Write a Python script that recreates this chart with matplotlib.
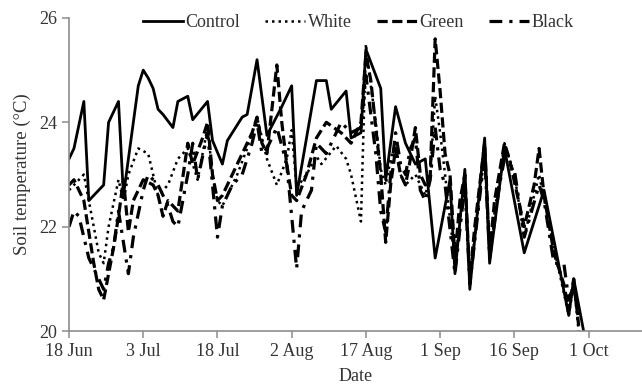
#!/usr/bin/env python3
import pandas as pd
import matplotlib
matplotlib.use('Agg')
import matplotlib.pyplot as plt
import matplotlib.dates as mdates

START = pd.Timestamp('2013-06-18')

# days after 18 Jun, soil temperature (°C)
control_days = [0, 1, 3, 4, 7, 8, 10, 11, 14, 15, 16, 17, 18, 19, 21, 22, 24, 25, 28, 29,
                31, 32, 35, 36, 38, 40, 43, 45, 46, 50, 52, 53, 56, 57, 59, 60, 63, 64, 66, 68,
                70, 72, 74, 77, 78, 80, 81, 84, 85, 88, 92, 96, 101, 102, 104]
control = [23.3, 23.5, 24.4, 22.5, 22.8, 24.0, 24.4, 22.6, 24.7, 25.0, 24.85, 24.65, 24.25, 24.15, 23.9, 24.4, 24.5, 24.05, 24.4, 23.65,
           23.2, 23.65, 24.1, 24.15, 25.2, 23.75, 24.3, 24.7, 22.6, 24.8, 24.8, 24.25, 24.6, 23.7, 23.8, 25.4, 24.65, 22.9, 24.3, 23.6,
           23.2, 23.3, 21.4, 22.9, 21.1, 23.1, 20.8, 23.7, 21.3, 23.5, 21.5, 22.7, 20.3, 21.0, 20.0]

white_days = [0, 2, 3, 5, 6, 7, 8, 10, 11, 12, 14, 16, 17, 18, 20, 22, 24, 25, 26, 28,
              29, 30, 31, 32, 34, 36, 38, 40, 42, 44, 45, 46, 48, 50, 51, 54, 56, 57, 59, 60,
              61, 62, 63, 64, 65, 66, 67, 68, 70, 72, 73, 74, 75, 76, 78, 80, 81, 84, 85, 88,
              90, 92, 95, 98, 101, 102, 103]
white = [22.7, 22.9, 23.0, 22.0, 21.5, 21.3, 22.0, 22.9, 22.5, 23.0, 23.5, 23.4, 23.0, 22.6, 22.8, 23.3, 23.5, 23.2, 22.9, 23.9,
         23.0, 22.5, 22.4, 22.6, 23.0, 23.5, 24.1, 23.3, 22.8, 23.3, 23.85, 22.75, 23.0, 23.35, 23.2, 23.55, 23.3, 23.0, 22.1, 25.5,
         24.7, 24.0, 23.1, 22.8, 23.3, 23.6, 23.0, 22.8, 23.0, 22.6, 23.0, 24.5, 23.8, 23.0, 21.3, 22.9, 21.0, 23.4, 21.6, 23.6,
         23.0, 21.8, 23.0, 21.6, 20.3, 20.9, 20.0]

green_days = [0, 1, 3, 5, 6, 7, 9, 10, 11, 12, 13, 15, 17, 18, 19, 20, 22, 24, 25, 27,
              28, 29, 30, 31, 33, 35, 37, 38, 39, 40, 42, 43, 44, 45, 46, 48, 50, 52, 55, 57,
              59, 60, 61, 63, 64, 65, 66, 67, 68, 69, 70, 71, 72, 73, 74, 75, 76, 77, 78, 79,
              80, 81, 82, 84, 85, 86, 88, 89, 92, 94, 95, 96, 98, 100, 101, 102, 103]
green = [22.8, 22.9, 22.5, 21.3, 20.8, 20.6, 21.6, 22.2, 22.9, 21.9, 22.5, 22.9, 22.8, 22.6, 22.2, 22.5, 22.3, 23.6, 23.2, 23.7,
         24.0, 23.0, 22.5, 22.6, 23.0, 23.4, 23.8, 24.1, 23.6, 23.4, 25.1, 24.0, 23.2, 22.6, 22.5, 23.0, 23.7, 24.0, 23.8, 23.6,
         24.0, 25.3, 24.8, 23.0, 21.7, 22.8, 23.5, 23.0, 22.8, 23.3, 23.9, 23.0, 22.8, 23.0, 25.6, 24.6, 23.4, 23.0, 21.4, 22.5,
         23.0, 21.0, 22.0, 23.6, 21.5, 22.5, 23.6, 23.3, 22.0, 22.8, 23.5, 22.6, 21.5, 20.9, 20.4, 21.0, 20.1]

black_days = [0, 1, 2, 4, 6, 7, 8, 9, 10, 12, 13, 15, 16, 18, 20, 21, 22, 24, 25, 26,
              28, 29, 30, 31, 33, 35, 37, 38, 39, 40, 42, 44, 46, 47, 49, 50, 52, 55, 57, 59,
              60, 62, 63, 64, 65, 66, 67, 68, 69, 70, 71, 72, 73, 74, 75, 76, 78, 80, 81, 84,
              85, 87, 88, 90, 92, 95, 96, 98, 100, 101, 102, 103]
black = [22.0, 22.3, 22.2, 21.4, 21.0, 20.8, 21.3, 21.6, 22.3, 21.1, 21.8, 22.7, 23.0, 22.8, 22.4, 22.1, 22.0, 23.0, 23.6, 22.9,
         23.8, 22.8, 21.8, 22.4, 22.8, 23.0, 23.6, 24.0, 23.4, 23.5, 23.9, 23.2, 21.2, 22.3, 22.7, 23.6, 23.4, 24.0, 23.8, 23.9,
         24.9, 23.4, 22.3, 21.9, 23.0, 23.8, 23.2, 23.0, 23.5, 23.7, 22.7, 22.5, 22.9, 23.9, 23.1, 22.8, 21.1, 22.8, 20.9, 23.4,
         21.4, 22.8, 23.3, 23.1, 21.8, 22.8, 22.5, 21.3, 21.3, 20.6, 20.9, 20.2]

SERIES = [
    ('Control', control_days, control, '-', 2.0),
    ('White', white_days, white, (0, (1, 1.6)), 1.8),
    ('Green', green_days, green, (0, (3.2, 1.4)), 2.3),
    ('Black', black_days, black, (0, (4, 2.2, 1, 2.2)), 2.3),
]


def to_dates(days):
    return START + pd.to_timedelta(days, unit='D')


def main():
    plt.rcParams['font.family'] = ['Liberation Serif', 'DejaVu Serif']
    fig = plt.figure(figsize=(6.42, 3.90), dpi=100)
    ax = fig.add_axes([0.1075, 0.151, 0.8925, 0.803])

    for name, days, vals, ls, lw in SERIES:
        ax.plot(to_dates(days), vals, color='black', linestyle=ls, linewidth=lw, label=name)

    ax.set_ylim(20, 26)
    ax.set_yticks([20, 22, 24, 26])
    ax.set_xlim(START, START + pd.Timedelta(days=115.8))
    ax.set_xticks(pd.date_range(START, periods=8, freq='15D'))
    ax.xaxis.set_major_formatter(mdates.DateFormatter('%-d %b'))

    for side in ('top', 'right'):
        ax.spines[side].set_visible(False)
    for side in ('left', 'bottom'):
        ax.spines[side].set_color('#8c8c8c')
        ax.spines[side].set_linewidth(1.2)
    ax.tick_params(direction='out', length=5, width=1.1, color='#8c8c8c',
                   labelsize=13, labelcolor='#333333')

    ax.set_xlabel('Date', fontsize=13, color='#333333', labelpad=6)
    ax.set_ylabel('Soil temperature (\u00b0C)', fontsize=13.5, color='#333333', labelpad=6)

    ax.legend(loc='center', bbox_to_anchor=(0.505, 0.985), ncol=4, frameon=False,
              fontsize=13, handlelength=2.2, handletextpad=0.15, columnspacing=1.4,
              labelcolor='#333333')

    fig.savefig('out.png', dpi=100)


if __name__ == '__main__':
    main()
